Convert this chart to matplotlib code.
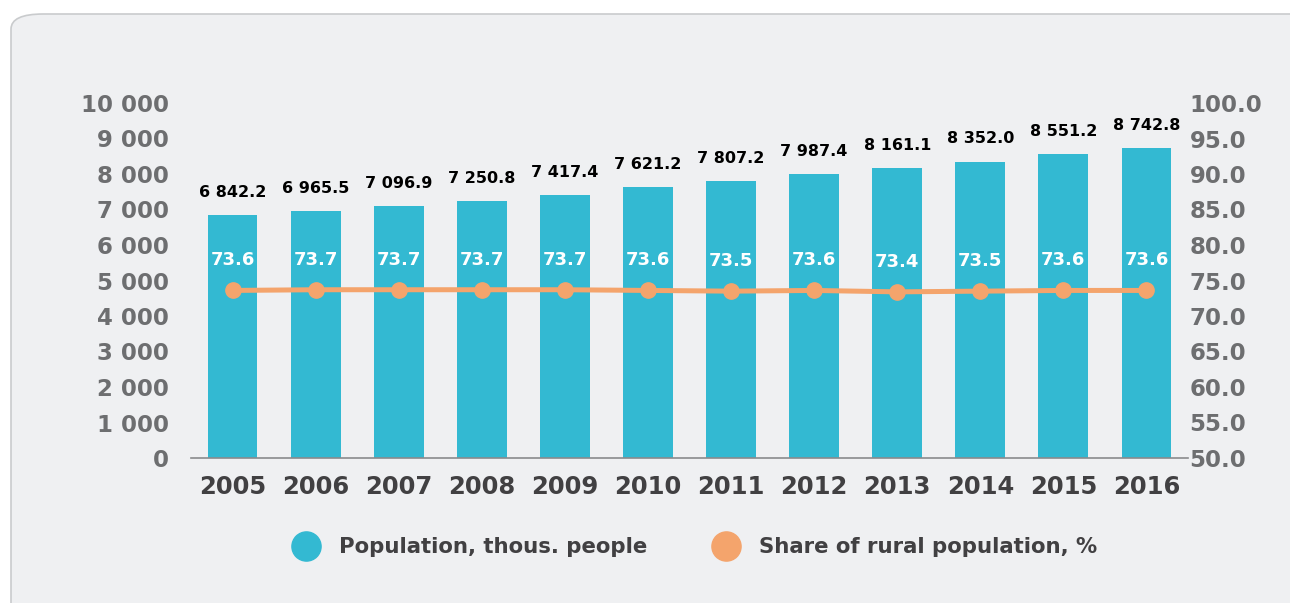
import matplotlib
matplotlib.use("Agg")
from matplotlib import pyplot as plt
from matplotlib.patches import FancyBboxPatch
from matplotlib.lines import Line2D
from matplotlib.ticker import FuncFormatter

years = ["2005", "2006", "2007", "2008", "2009", "2010",
         "2011", "2012", "2013", "2014", "2015", "2016"]
population = [6842.2, 6965.5, 7096.9, 7250.8, 7417.4, 7621.2,
              7807.2, 7987.4, 8161.1, 8352.0, 8551.2, 8742.8]
rural_share = [73.6, 73.7, 73.7, 73.7, 73.7, 73.6,
               73.5, 73.6, 73.4, 73.5, 73.6, 73.6]

bar_color = "#33b9d2"
line_color = "#f4a46c"
tick_color = "#6d6e70"
dark = "#414042"

plt.rcParams["font.family"] = "DejaVu Sans"
plt.rcParams["font.weight"] = "bold"

fig = plt.figure(figsize=(12.9, 6.03), dpi=100)
fig.patch.set_facecolor("white")

# rounded grey card behind the chart
card = FancyBboxPatch((11 / 1290, -0.1), 1.2, 1 - 14 / 603 + 0.1,
                      boxstyle="round,pad=0,rounding_size=0.025",
                      transform=fig.transFigure, facecolor="#eff0f2",
                      edgecolor="#c9cbcd", linewidth=1.2, zorder=-10)
fig.add_artist(card)

ax = fig.add_axes([191 / 1290, 1 - 458 / 603, (1188 - 191) / 1290, 355 / 603])
ax.set_facecolor("none")
x = list(range(len(years)))
ax.bar(x, population, width=0.6, color=bar_color, zorder=2)
ax.set_xlim(-0.5, len(years) - 0.5)
ax.set_ylim(0, 10000)
ax.set_yticks(range(0, 10001, 1000))
ax.yaxis.set_major_formatter(FuncFormatter(lambda v, p: f"{int(v):,}".replace(",", " ")))
ax.set_xticks(x)
ax.set_xticklabels(years)
ax.tick_params(axis="y", length=0, pad=16, labelsize=16.5, labelcolor=tick_color)
ax.tick_params(axis="x", length=0, pad=12, labelsize=17.5, labelcolor=dark)
for s in ["top", "right", "left"]:
    ax.spines[s].set_visible(False)
ax.spines["bottom"].set_color("#8a8b8d")
ax.spines["bottom"].set_linewidth(1.2)

for xi, v in zip(x, population):
    ax.annotate(f"{v:,.1f}".replace(",", " "), (xi, v), xytext=(0, 13),
                textcoords="offset points", ha="center", va="baseline",
                fontsize=11.5, color="black", fontweight="bold")

ax2 = ax.twinx()
ax2.plot(x, rural_share, color=line_color, linewidth=3.6, marker="o",
         markersize=11, zorder=3)
ax2.set_ylim(50, 100)
ax2.set_yticks(range(50, 101, 5))
ax2.yaxis.set_major_formatter(FuncFormatter(lambda v, p: f"{v:.1f}"))
ax2.tick_params(axis="y", length=0, pad=1, labelsize=16.5, labelcolor=tick_color)
for s in ax2.spines.values():
    s.set_visible(False)

for xi, v in zip(x, rural_share):
    ax2.annotate(f"{v:.1f}", (xi, v), xytext=(0, 18), textcoords="offset points",
                 ha="center", va="baseline", fontsize=13, color="white",
                 fontweight="bold")

handles = [
    Line2D([], [], linestyle="none", marker="o", markersize=21,
           color=bar_color, label="Population, thous. people"),
    Line2D([], [], linestyle="none", marker="o", markersize=21,
           color=line_color, label="Share of rural population, %"),
]
fig.legend(handles=handles, loc="center", bbox_to_anchor=(0.5356, 1 - 547 / 603),
           ncol=2, frameon=False, handletextpad=0.55, columnspacing=2.7,
           prop={"size": 15.3, "weight": "bold"}, labelcolor=dark)

fig.savefig("out.png", dpi=100, facecolor="white")
